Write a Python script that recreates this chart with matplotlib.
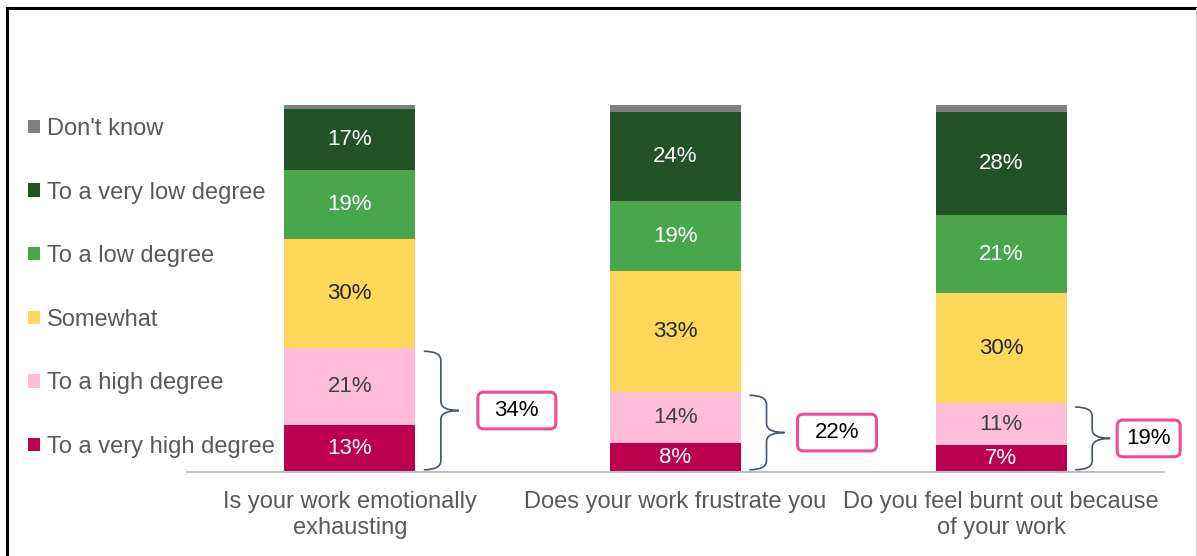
import matplotlib
matplotlib.use("Agg")
import matplotlib.pyplot as plt
from matplotlib.path import Path
from matplotlib.patches import PathPatch, FancyBboxPatch
from matplotlib.lines import Line2D

plt.rcParams['font.family'] = ['Liberation Sans', 'DejaVu Sans']

# Data (percent), bottom to top of each bar
categories = ['Is your work emotionally\nexhausting',
              'Does your work frustrate you',
              'Do you feel burnt out because\nof your work']
series = ['To a very high degree', 'To a high degree', 'Somewhat',
          'To a low degree', 'To a very low degree', "Don't know"]
very_high = [12.7, 7.8, 7.3]
high = [21.2, 14.1, 11.4]
somewhat = [29.6, 32.8, 30.0]
low = [18.8, 19.2, 21.2]
very_low = [16.6, 24.3, 28.2]
dont_know = [1.1, 1.8, 1.9]

values = [very_high, high, somewhat, low, very_low, dont_know]
colors = ['#BC004E', '#FFBDDA', '#FFD75A', '#4AA64B', '#245227', '#808080']
label_colors = ['white', '#404040', '#262626', 'white', 'white', None]

W, H = 1197, 556
fig = plt.figure(figsize=(W / 100, H / 100), dpi=100)
ax = fig.add_axes([187 / W, 1 - 472 / H, (1164 - 187) / W, (472 - 105) / H])
px = 3 / (1164 - 187)  # one pixel in x data units

x = list(range(len(categories)))
bar_w = 131 * px
bottoms = [0.0] * len(x)
handles = []
for vals, col, lcol, name in zip(values, colors, label_colors, series):
    bars = ax.bar(x, vals, bar_w, bottom=bottoms, color=col, label=name, linewidth=0)
    handles.append(bars)
    if lcol is not None:
        for xi, v, b in zip(x, vals, bottoms):
            ax.text(xi, b + v / 2, f"{v:.0f}%", ha='center', va='center',
                    fontsize=16, color=lcol)
    bottoms = [b + v for b, v in zip(bottoms, vals)]

ax.set_xlim(-0.5, 2.5)
ax.set_ylim(0, 100)


def brace(ax, xc, y0, y1):
    xh, xv, xt = xc + 74 * px, xc + 91 * px, xc + 109 * px
    ym = (y0 + y1) / 2
    r = 2.5
    verts = [(xh, y1), (xv, y1), (xv, y1 - r),
             (xv, ym + r), (xv, ym), (xt, ym),
             (xv, ym), (xv, ym - r),
             (xv, y0 + r), (xv, y0), (xh, y0)]
    codes = [Path.MOVETO, Path.CURVE3, Path.CURVE3,
             Path.LINETO, Path.CURVE3, Path.CURVE3,
             Path.CURVE3, Path.CURVE3,
             Path.LINETO, Path.CURVE3, Path.CURVE3]
    ax.add_patch(PathPatch(Path(verts, codes), fill=False, edgecolor='#44546A',
                           linewidth=1.2, clip_on=False))
    return ym


# box placement (pixels from bar centre): left edge, width
box_left = [128, 122, 116]
box_width = [78, 79, 63]
for xi, vh, h, bl, bwp in zip(x, very_high, high, box_left, box_width):
    top = vh + h
    ym = brace(ax, xi, 0.6, top - 1.0)
    bw, bh = bwp * px, 10.0
    bx = xi + bl * px
    ax.add_patch(FancyBboxPatch((bx, ym - bh / 2), bw, bh,
                                boxstyle="round,pad=0,rounding_size=0.018",
                                mutation_aspect=89, facecolor='white',
                                edgecolor='#EE4C93', linewidth=2.2, clip_on=False))
    ax.text(bx + bw / 2, ym, f"{top:.0f}%", ha='center', va='center', fontsize=16, color='black')

ax.set_xticks(x)
ax.set_xticklabels(categories, fontsize=17, color='#595959', linespacing=1.2)
ax.tick_params(axis='x', length=0, pad=14)
ax.set_yticks([])
for s in ['top', 'right', 'left']:
    ax.spines[s].set_visible(False)
ax.spines['bottom'].set_color('#BFBFBF')
ax.spines['bottom'].set_linewidth(1.5)

leg = fig.legend(handles[::-1], series[::-1], loc='upper left',
                 bbox_to_anchor=(28 / W, 1 - 118 / H), frameon=False,
                 fontsize=17, labelcolor='#595959', handlelength=0.5,
                 handleheight=0.5, handletextpad=0.3, labelspacing=1.76,
                 borderpad=0, borderaxespad=0)

# frame around the picture
fig.add_artist(Line2D([6.5 / W, 6.5 / W], [0, 1 - 8 / H], color='black', lw=2.2))
fig.add_artist(Line2D([6.5 / W, 1], [1 - 8 / H, 1 - 8 / H], color='black', lw=2.2))
fig.add_artist(Line2D([1195.5 / W, 1195.5 / W], [0, 1 - 8 / H], color='#D0D0D0', lw=1))

fig.savefig('out.png', dpi=100)
